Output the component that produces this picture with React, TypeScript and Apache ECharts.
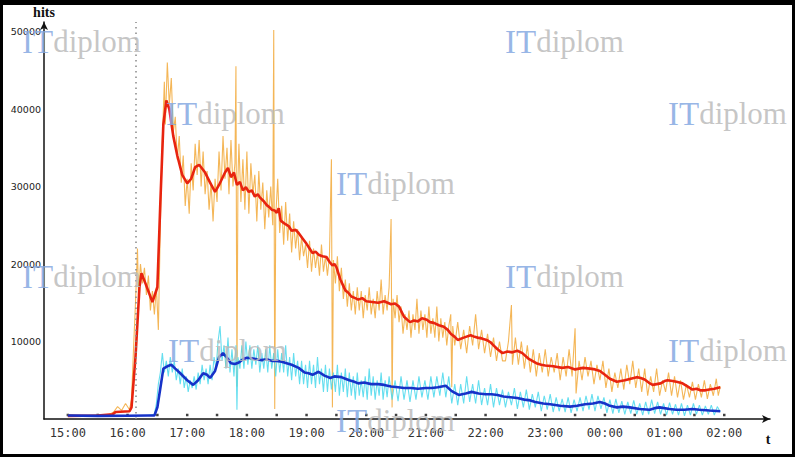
import React, { useEffect, useRef } from "react";
import * as echarts from "echarts";

// minutes since 15:00 -> values
const timeLabels = ["15:00", "16:00", "17:00", "18:00", "19:00", "20:00", "21:00", "22:00", "23:00", "00:00", "01:00", "02:00"];
const yTicks = [10000, 20000, 30000, 40000, 50000];
const tickDotMinutes = [0, 30, 60, 90, 120, 150, 180, 210, 240, 270, 300, 330, 360, 390, 420, 450, 480, 510, 540, 570, 600, 630, 660];
const startMarkerMinute = 68;

const hitsSmooth = [
  [0, 400], [30, 450], [45, 600], [48, 900], [62, 1000], [64, 1500], [68, 8000], [72, 17000], [74, 18800], [78, 17500],
  [85, 15100], [90, 17000], [93, 28000], [96, 38000], [99, 41100], [102, 40000], [106, 36500], [110, 34000], [115, 31500],
  [120, 30400], [124, 31000], [128, 32500], [132, 32800], [138, 31800], [143, 30500], [148, 29300], [152, 30200], [158, 31800],
  [161, 32400], [164, 31200], [167, 31800], [170, 30200], [173, 30600], [176, 29500], [179, 29900], [182, 29300], [185, 29500],
  [188, 28700], [191, 29000], [193, 28600], [197, 28100], [200, 27600], [203, 27300], [205, 27000], [208, 26900],
  [210, 26600], [212, 27200], [214, 25600], [218, 25200], [222, 24900], [225, 24300], [229, 24400], [232, 24000], [236, 23300],
  [240, 22600], [243, 22000], [246, 21400], [249, 21600], [252, 21200], [256, 21000], [260, 20900], [263, 20300],
  [266, 19800], [268, 20000], [270, 19600], [274, 18000], [279, 16600], [282, 16300], [285, 15800], [289, 15600], [292, 15400],
  [296, 15600], [300, 15200], [306, 15100], [312, 15000], [318, 15200], [325, 14800], [329, 14900],
  [333, 14500], [338, 13200], [344, 12500], [348, 12700], [352, 12600], [356, 13000], [361, 12800], [364, 12500], [368, 12400],
  [373, 12100], [378, 11900], [382, 11500], [385, 11000], [389, 10600], [392, 10200],
  [398, 10500], [405, 10800], [409, 10600], [412, 10500], [416, 10400], [421, 10200], [425, 9900], [428, 9500], [432, 9000],
  [437, 8500], [442, 8700], [447, 8600], [452, 8800], [457, 8500], [463, 7800],
  [467, 7500], [471, 7200], [476, 7000], [480, 6900], [488, 6800], [497, 6600], [503, 6700], [510, 6400], [518, 6600],
  [525, 6500], [530, 6400], [535, 6200], [540, 5700], [545, 5200], [552, 4800], [556, 4900], [560, 5000],
  [566, 5200], [572, 5400], [576, 5300], [580, 5100], [584, 4700], [588, 4400], [592, 4500], [596, 4600], [600, 4900],
  [603, 5000], [608, 4900], [612, 4800], [618, 4600], [623, 4200], [628, 3800], [632, 3900], [636, 3700],
  [641, 3700], [645, 3800], [650, 3900], [656, 4100],
];

const hitsRaw = [
  [0, 500], [10, 400], [20, 450], [30, 500], [40, 450], [46, 900], [50, 1600], [54, 1100], [58, 2000], [62, 1200], [64, 2500],
  [66, 9000], [68, 15000], [70, 22000], [71, 16000], [73, 20000], [75, 17500], [77, 19500], [79, 16000], [81, 18500], [83, 14000],
  [85, 16500], [87, 13500], [89, 17000], [91, 11500], [93, 25000], [95, 36000], [97, 43500], [98, 38000], [100, 46000],
  [102, 40500], [104, 44000], [106, 37000], [108, 39000], [110, 33500], [112, 36500], [114, 30500], [116, 34000], [118, 27500],
  [120, 31000], [122, 26500], [124, 33000], [126, 29500], [128, 35500], [130, 31500], [132, 36000], [134, 30000], [136, 34500],
  [138, 29000], [140, 32000], [142, 27000], [144, 30500], [146, 25500], [148, 31000], [150, 28000], [152, 34500], [154, 29500],
  [156, 36500], [158, 31000], [160, 35000], [162, 29000], [164, 36000], [166, 30000], [168, 33000], [169, 45500], [170, 4200],
  [171, 31000], [172, 35500], [174, 28000], [176, 33500], [178, 27000], [180, 34500], [182, 26500], [184, 33000], [186, 29000],
  [188, 31500], [190, 25500], [192, 32000], [194, 27000], [196, 30500], [198, 24500], [200, 29500], [202, 26000], [204, 30000],
  [206, 25000], [207, 50200], [208, 1300], [209, 26000], [211, 31000], [213, 24000], [215, 27500], [217, 22500], [219, 28000],
  [221, 23000], [223, 26500], [225, 21500], [227, 25500], [229, 22000], [231, 24500], [233, 20500], [235, 23500], [237, 21000],
  [239, 22500], [241, 19500], [243, 23000], [245, 19000], [247, 22000], [249, 19500], [251, 21500], [253, 18500], [255, 22500],
  [257, 19000], [259, 21000], [261, 18500], [263, 21000], [265, 33500], [266, 1500], [267, 20500], [269, 17500], [271, 21000],
  [273, 16500], [275, 19500], [277, 15500], [279, 18000], [281, 14500], [283, 17500], [285, 14000], [287, 16500], [289, 13500],
  [291, 17000], [293, 14000], [295, 16500], [297, 13000], [299, 16000], [301, 14000], [303, 17000], [305, 13500], [307, 15500],
  [309, 13000], [311, 16500], [313, 14000], [315, 18000], [317, 13500], [319, 16000], [321, 14000], [323, 17000], [325, 25800],
  [326, 1500], [327, 15500], [329, 13000], [331, 16000], [333, 12500], [335, 14500], [337, 11000], [339, 13500], [341, 11500],
  [343, 14000], [345, 10500], [347, 13500], [349, 11500], [351, 15500], [353, 11000], [355, 14000], [357, 11500], [359, 13500],
  [361, 10500], [363, 14500], [365, 11000], [367, 13000], [369, 10500], [371, 14500], [373, 10000], [375, 13000], [377, 10500],
  [379, 12500], [381, 9500], [383, 12000], [385, 13500], [386, 4100], [387, 12000], [389, 9500], [392, 12500], [395, 9000],
  [398, 11500], [401, 8500], [404, 12000], [407, 9500], [410, 13500], [413, 9000], [416, 11500], [419, 8500], [422, 11000],
  [425, 8000], [428, 10500], [431, 7500], [434, 10000], [437, 7500], [440, 7500], [443, 10000], [446, 14700], [447, 7000],
  [450, 10500], [453, 7000], [456, 10000], [459, 6500], [462, 9500], [465, 6000], [468, 9000], [471, 5500], [474, 8500],
  [477, 6000], [480, 9000], [483, 5500], [486, 8000], [489, 6000], [492, 8500], [495, 5000], [498, 8000], [501, 5500],
  [504, 9000], [507, 5500], [510, 11700], [511, 3300], [514, 7500], [517, 5000], [520, 8000], [523, 5500], [526, 7500],
  [529, 4500], [532, 7000], [535, 5000], [538, 7500], [541, 4000], [544, 6500], [547, 3500], [550, 6000], [553, 4000],
  [556, 6500], [559, 3800], [562, 7000], [565, 4500], [568, 7500], [571, 4000], [574, 6500], [577, 3500], [580, 6500],
  [583, 3000], [586, 5500], [589, 3500], [592, 6500], [595, 3000], [598, 5000], [601, 3500], [604, 6000], [607, 3000],
  [610, 5500], [613, 2800], [616, 5000], [619, 2500], [622, 4500], [625, 2800], [628, 4800], [631, 2500], [634, 4500],
  [637, 2800], [640, 5000], [643, 2600], [646, 4500], [649, 3000], [652, 5200], [654, 3000], [656, 4200],
];

const visitorsSmooth = [
  [0, 450], [30, 400], [60, 420], [80, 450], [87, 450], [90, 1500], [93, 4000], [96, 6500], [100, 6800], [104, 7000],
  [108, 6500], [113, 5900], [120, 5000], [126, 4400], [131, 5000], [136, 5900], [140, 5700], [143, 5300], [148, 6200],
  [152, 8000], [156, 8500], [160, 7900], [164, 7200], [168, 7100], [172, 7300], [176, 7700], [180, 7900], [186, 7800],
  [190, 7700], [195, 7600], [200, 7700], [205, 7500], [210, 7500], [215, 7400], [220, 7200], [225, 7000], [232, 6600], [238, 6000],
  [242, 5900], [246, 5700], [252, 6100], [258, 5600],
  [264, 5300], [268, 5500], [275, 5400], [279, 5200], [283, 5000], [288, 4800], [292, 4600], [298, 4700], [305, 4500], [312, 4500],
  [318, 4400], [325, 4200], [332, 4100], [338, 4000], [345, 4000], [352, 3900],
  [360, 4000], [366, 4000], [372, 4100], [380, 4300], [386, 3600], [393, 3100], [400, 3300], [406, 3500], [413, 3300], [420, 3200],
  [426, 3200], [432, 3100], [438, 2900], [445, 2800], [452, 2700], [459, 2500], [465, 2400], [470, 2200], [478, 2000], [485, 1900],
  [495, 1700], [505, 1600], [512, 1700], [520, 1900], [528, 2000], [535, 2200], [540, 2000], [545, 1700],
  [552, 1500], [558, 1600], [565, 1500], [575, 1300], [585, 1200], [590, 1400], [595, 1500], [605, 1300], [612, 1200],
  [620, 1200], [628, 1300], [635, 1200], [645, 1100], [656, 1000],
];

const visitorsRaw = [
  [0, 500], [20, 400], [40, 450], [60, 400], [80, 450], [87, 600], [89, 2000], [91, 4500], [93, 6000], [95, 8500], [97, 6000],
  [99, 7500], [101, 5500], [103, 8000], [105, 6000], [107, 7500], [109, 5000], [111, 6500], [113, 4500], [115, 6500], [117, 4000],
  [119, 5500], [121, 3500], [123, 5000], [125, 4000], [127, 5500], [129, 3800], [131, 6000], [133, 4500], [135, 7000], [137, 5000],
  [139, 6500], [141, 4500], [143, 7000], [145, 5000], [147, 8000], [149, 6500], [151, 10000], [153, 12000], [155, 7500],
  [157, 9500], [159, 6500], [161, 10500], [163, 6000], [165, 9000], [167, 5500], [169, 9500], [170, 1200], [171, 8000],
  [173, 6500], [175, 9500], [177, 6500], [179, 10000], [181, 7000], [183, 9500], [185, 6500], [187, 9000], [189, 7000],
  [191, 9500], [193, 6000], [195, 8500], [197, 6500], [199, 9000], [201, 6000], [203, 9500], [205, 6500], [207, 8500],
  [209, 5500], [211, 9000], [213, 6000], [215, 8500], [217, 6000], [219, 9500], [221, 5500], [223, 8000], [225, 5000],
  [227, 8500], [229, 5500], [231, 7500], [233, 4500], [235, 7500], [237, 4500], [239, 7000], [241, 4000], [243, 7500],
  [245, 4500], [247, 7000], [249, 4000], [251, 8000], [253, 4500], [255, 6500], [257, 3500], [259, 7000], [261, 3500],
  [263, 6500], [265, 3800], [267, 6000], [269, 3500], [271, 7000], [273, 3000], [275, 6000], [277, 3500], [279, 6500],
  [281, 2800], [283, 6000], [285, 3000], [287, 5500], [289, 2500], [291, 6000], [293, 3000], [295, 5000], [297, 2800],
  [299, 5500], [301, 2500], [303, 6500], [305, 3000], [307, 5500], [309, 2500], [311, 5000], [313, 3000], [315, 6000],
  [317, 2500], [319, 5000], [321, 2800], [323, 5500], [326, 2500], [329, 5000], [332, 2300], [335, 5500], [338, 2500],
  [341, 5000], [344, 2200], [347, 5000], [350, 2500], [353, 5500], [356, 2800], [359, 5000], [362, 2500], [365, 5500],
  [368, 2800], [371, 5500], [374, 3000], [377, 6000], [380, 2800], [383, 5500], [386, 2000], [389, 4500], [392, 1800],
  [395, 4500], [398, 2000], [401, 5500], [404, 2200], [407, 4500], [410, 2000], [413, 5000], [416, 1800], [419, 4000],
  [422, 1800], [425, 4500], [428, 1500], [431, 4000], [434, 1800], [437, 3800], [440, 1500], [443, 3500], [446, 1800],
  [449, 4000], [452, 1300], [455, 3500], [458, 1500], [461, 3800], [464, 1200], [467, 3200], [470, 1500], [473, 3500],
  [476, 1000], [479, 3000], [482, 1200], [485, 3200], [488, 900], [491, 2800], [494, 1000], [497, 2600], [500, 900],
  [503, 2800], [506, 800], [509, 2500], [512, 1000], [515, 2800], [518, 1000], [521, 3000], [524, 1200], [527, 3200],
  [530, 1000], [533, 3000], [536, 1300], [539, 2800], [542, 800], [545, 2500], [548, 700], [551, 2600], [554, 800],
  [557, 2300], [560, 600], [563, 2200], [566, 700], [569, 2400], [572, 600], [575, 2000], [578, 500], [581, 2200],
  [584, 600], [587, 2500], [590, 700], [593, 2200], [596, 600], [599, 2000], [602, 500], [605, 2100], [608, 600],
  [611, 1900], [614, 500], [617, 2000], [620, 400], [623, 1800], [626, 500], [629, 2000], [632, 600], [635, 1800],
  [638, 500], [641, 1700], [644, 600], [647, 1800], [650, 500], [653, 1600], [656, 900],
];

const watermarkSpots = [
  [22, 26], [505, 26], [166, 98], [668, 98], [336, 168], [22, 261], [505, 261], [168, 335], [668, 335], [336, 405],
];

export default function App() {
  const ref = useRef<HTMLDivElement>(null);
  useEffect(() => {
    if (!ref.current) return;
    const chart = echarts.init(ref.current, undefined, { renderer: "svg" });
    const watermarks = watermarkSpots.map(([x, y]) => ({
      type: "text",
      x,
      y,
      z: 100,
      silent: true,
      style: {
        text: "{a|IT}{b|diplom}",
        verticalAlign: "top",
        opacity: 0.85,
        rich: {
          a: { fontFamily: "Liberation Serif", fontSize: 33, fill: "#86a9e2", lineHeight: 31 },
          b: { fontFamily: "Liberation Serif", fontSize: 31, fill: "#bcbcbc", lineHeight: 31 },
        },
      },
    }));
    chart.setOption({
      animation: false,
      backgroundColor: "#ffffff",
      grid: { left: 44, right: 25, top: 22, bottom: 38, containLabel: false, outerBoundsMode: "none" },
      xAxis: {
        type: "value",
        min: -24,
        max: 706,
        name: "t",
        nameLocation: "end",
        nameGap: -2,
        nameTextStyle: { fontFamily: "Liberation Serif", fontSize: 14, fontWeight: "bold", color: "#111", align: "center", verticalAlign: "top", padding: [13, 0, 0, 0] },
        axisLine: { show: true, onZero: true, symbol: ["none", "arrow"], symbolSize: [6, 8], lineStyle: { color: "#111", width: 1.5 } },
        axisTick: { show: false },
        splitLine: { show: false },
        axisLabel: {
          customValues: timeLabels.map((_, i) => i * 60),
          formatter: (v: number) => timeLabels[Math.round(v / 60)] ?? "",
          fontFamily: "DejaVu Sans Mono",
          fontSize: 12,
          color: "#333",
          margin: 8,
        },
      },
      yAxis: {
        type: "value",
        min: 0,
        max: 51226,
        interval: 10000,
        name: "hits",
        nameLocation: "end",
        nameGap: 3,
        nameTextStyle: { fontFamily: "Liberation Serif", fontSize: 14, fontWeight: "bold", color: "#111", align: "center" },
        axisLine: { show: true, onZero: false, symbol: ["none", "arrow"], symbolSize: [6, 8], lineStyle: { color: "#111", width: 1.5 } },
        axisTick: { show: false },
        splitLine: { show: false },
        axisLabel: {
          formatter: (v: number) => (yTicks.includes(v) ? String(v) : ""),
          fontFamily: "DejaVu Sans",
          fontSize: 9.5,
          color: "#222",
          margin: 3,
        },
      },
      series: [
        {
          type: "scatter",
          data: tickDotMinutes.map((m) => [m, 0]),
          symbol: "rect",
          symbolSize: 2.5,
          symbolOffset: [0, -4],
          itemStyle: { color: "#111" },
          silent: true,
          z: 1,
          markLine: {
            silent: true,
            symbol: "none",
            label: { show: false },
            lineStyle: { type: [1.5, 4], color: "#888", width: 1.5 },
            data: [{ xAxis: startMarkerMinute }],
          },
        },
        { type: "line", data: hitsRaw, showSymbol: false, lineStyle: { color: "#f2a93a", width: 1.1, opacity: 0.85 }, z: 2 },
        { type: "line", data: visitorsRaw, showSymbol: false, lineStyle: { color: "#4ad8ec", width: 1.1, opacity: 0.85 }, z: 3 },
        { type: "line", data: hitsSmooth, showSymbol: false, lineStyle: { color: "#e8240f", width: 2.6 }, z: 4 },
        { type: "line", data: visitorsSmooth, showSymbol: false, lineStyle: { color: "#1632c8", width: 2.6 }, z: 5 },
      ],
      graphic: [
        ...watermarks,
        {
          type: "rect",
          z: 200,
          silent: true,
          shape: { x: 0, y: 0, width: 795, height: 457 },
          style: { fill: "none", stroke: "#000", lineWidth: 6 },
        },
        {
          type: "rect",
          z: 200,
          silent: true,
          shape: { x: 0, y: 0, width: 795, height: 5 },
          style: { fill: "#000" },
        },
      ],
    });
    return () => chart.dispose();
  }, []);
  return (
    <div
      ref={ref}
      style={{ position: "absolute", left: 0, top: 0, width: 795, height: 457, background: "#fff" }}
    />
  );
}
